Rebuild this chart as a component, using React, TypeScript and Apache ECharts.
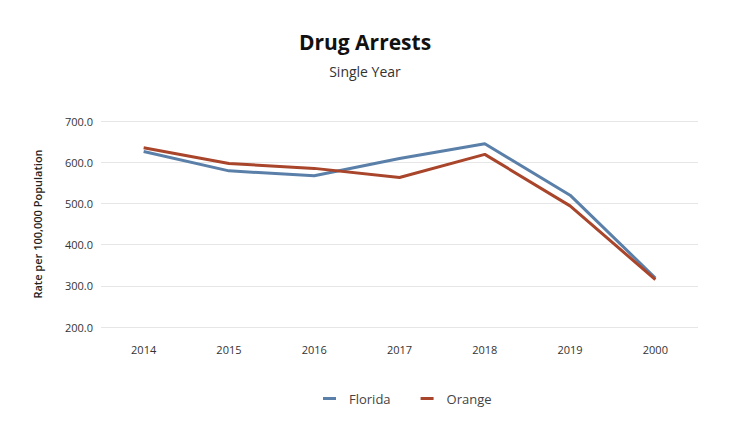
import React, { useEffect, useRef } from "react";
import * as echarts from "echarts";

const categories = ["2014", "2015", "2016", "2017", "2018", "2019", "2000"];
const florida = [626, 579, 567, 609, 645, 520, 319];
const orange = [635, 597, 585, 563, 619, 494, 315];
const yTicks = { min: 200, max: 700, interval: 100 };

export default function App() {
  const ref = useRef<HTMLDivElement>(null);
  useEffect(() => {
    if (!ref.current) return;
    const chart = echarts.init(ref.current, undefined, { renderer: "svg" });
    const font = "Open Sans, Noto Sans, sans-serif";
    chart.setOption({
      animation: false,
      backgroundColor: "#ffffff",
      title: {
        text: "Drug Arrests",
        subtext: "Single Year",
        left: "center",
        top: 26,
        itemGap: 12,
        textStyle: { fontFamily: font, fontSize: 21, fontWeight: "bold", color: "#111" },
        subtextStyle: { fontFamily: font, fontSize: 14, color: "#333" },
      },
      legend: {
        bottom: 20,
        left: 318,
        itemWidth: 13,
        itemHeight: 3,
        itemGap: 30,
        icon: "rect",
        textStyle: { fontFamily: font, fontSize: 13, color: "#444", padding: [0, 0, 0, 8] },
        data: ["Florida", "Orange"],
      },
      grid: { left: 101, right: 32, top: 121, bottom: 103 },
      xAxis: {
        type: "category",
        data: categories,
        boundaryGap: true,
        axisLine: { show: false },
        axisTick: { show: false },
        axisLabel: { fontFamily: font, fontSize: 11, color: "#333", margin: 17 },
      },
      yAxis: {
        type: "value",
        min: yTicks.min,
        max: yTicks.max,
        interval: yTicks.interval,
        name: "Rate per 100,000 Population",
        nameLocation: "middle",
        nameRotate: 90,
        nameGap: 58,
        nameTextStyle: { fontFamily: font, fontSize: 11, fontWeight: 600, color: "#222" },
        axisLine: { show: false },
        axisTick: { show: false },
        axisLabel: {
          fontFamily: font,
          fontSize: 11,
          color: "#333",
          margin: 8,
          formatter: (v: number) => v.toFixed(1),
        },
        splitLine: { lineStyle: { color: "#e6e6e6", width: 1 } },
      },
      series: [
        {
          name: "Florida",
          type: "line",
          data: florida,
          symbol: "none",
          color: "#5a7fa8",
          lineStyle: { width: 3, color: "#5a7fa8" },
        },
        {
          name: "Orange",
          type: "line",
          data: orange,
          symbol: "none",
          color: "#a8452b",
          lineStyle: { width: 3, color: "#a8452b" },
        },
      ],
    });
    return () => chart.dispose();
  }, []);
  return <div ref={ref} style={{ width: 730, height: 430, margin: -8 }} />;
}
